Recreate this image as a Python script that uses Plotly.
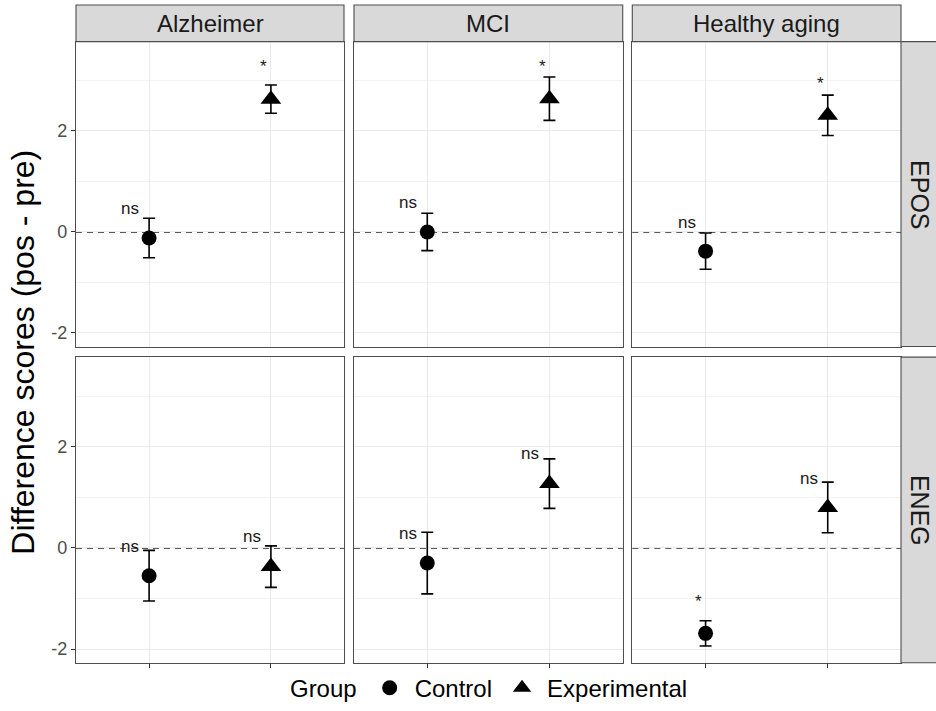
import plotly.graph_objects as go

# ---- data -------------------------------------------------------------
conditions = ["Alzheimer", "MCI", "Healthy aging"]
measures = ["EPOS", "ENEG"]
groups = ["Control", "Experimental"]

# mean difference scores (pos - pre) and error half-widths, per condition
epos_control_mean = [-0.12, 0.00, -0.38]
epos_control_err = [0.39, 0.37, 0.36]
epos_exp_mean = [2.63, 2.64, 2.31]
epos_exp_err = [0.28, 0.43, 0.40]

eneg_control_mean = [-0.55, -0.30, -1.69]
eneg_control_err = [0.50, 0.61, 0.25]
eneg_exp_mean = [-0.37, 1.27, 0.80]
eneg_exp_err = [0.41, 0.49, 0.50]

# significance labels and the height at which each label sits
epos_control_sig = ["ns", "ns", "ns"]
epos_exp_sig = ["*", "*", "*"]
eneg_control_sig = ["ns", "ns", "*"]
eneg_exp_sig = ["ns", "ns", "ns"]

epos_control_sig_y = [0.38, 0.49, 0.09]
epos_exp_sig_y = [3.18, 3.19, 2.85]
eneg_control_sig_y = [-0.07, 0.19, -1.15]
eneg_exp_sig_y = [0.14, 1.77, 1.29]

y_ticks = [-2, 0, 2]
y_minor = [-1, 1, 3]
y_range = [-2.27, 3.77]

table = {
    "EPOS": {
        "Control": (epos_control_mean, epos_control_err, epos_control_sig, epos_control_sig_y),
        "Experimental": (epos_exp_mean, epos_exp_err, epos_exp_sig, epos_exp_sig_y),
    },
    "ENEG": {
        "Control": (eneg_control_mean, eneg_control_err, eneg_control_sig, eneg_control_sig_y),
        "Experimental": (eneg_exp_mean, eneg_exp_err, eneg_exp_sig, eneg_exp_sig_y),
    },
}

# ---- layout geometry (pixels) ----------------------------------------
W, H = 936, 711
FONT = "Liberation Sans, Arial, Helvetica, sans-serif"
col_px = [(76, 344), (354, 622.7), (632.3, 901)]
row_px = [(42, 350), (360.7, 669.3)]
strip_top = (5, 42)
strip_right = (901, 936)
BORDER = "#4D4D4D"
GRID = "#EBEBEB"

symbols = {"Control": "circle", "Experimental": "triangle-up"}
sizes = {"Control": 15, "Experimental": 18}

fig = go.Figure()
layout_axes = {}
shapes = []
annotations = []

for r, measure in enumerate(measures):
    for c, cond in enumerate(conditions):
        k = r * 3 + c + 1
        xs = "x" if k == 1 else f"x{k}"
        ys = "y" if k == 1 else f"y{k}"
        x0, x1 = col_px[c]
        y0, y1 = row_px[r]

        layout_axes["xaxis" if k == 1 else f"xaxis{k}"] = dict(
            domain=[x0 / W, x1 / W], anchor=ys, type="category",
            categoryorder="array", categoryarray=groups, range=[-0.6, 1.6],
            showgrid=True, gridcolor=GRID, gridwidth=1,
            showline=True, mirror=True, linecolor=BORDER, linewidth=1.1,
            ticks="outside" if r == 1 else "", ticklen=4, tickwidth=1,
            tickcolor="#333333", showticklabels=False, zeroline=False,
            fixedrange=True,
        )
        layout_axes["yaxis" if k == 1 else f"yaxis{k}"] = dict(
            domain=[1 - y1 / H, 1 - y0 / H], anchor=xs, range=y_range,
            tickmode="array", tickvals=y_ticks, ticktext=[str(v) for v in y_ticks],
            showgrid=True, gridcolor=GRID, gridwidth=1,
            minor=dict(tickmode="array", tickvals=y_minor, showgrid=True,
                       gridcolor="#F2F2F2", gridwidth=0.8, ticks=""),
            showline=True, mirror=True, linecolor=BORDER, linewidth=1.1,
            ticks="outside" if c == 0 else "", ticklen=4, tickwidth=1,
            tickcolor="#333333", showticklabels=(c == 0),
            tickfont=dict(family=FONT, size=18, color="#4D4D4D"),
            zeroline=False, fixedrange=True,
        )

        # dashed reference line at zero
        shapes.append(dict(
            type="line", xref=f"{xs} domain", yref=ys, x0=0, x1=1, y0=0, y1=0,
            line=dict(color="#262626", width=1.8, dash="6px,5px"), layer="below",
        ))

        for g in groups:
            means, errs, sigs, sig_y = table[measure][g]
            fig.add_trace(go.Scatter(
                x=[g], y=[means[c]], mode="markers",
                marker=dict(symbol=symbols[g], size=sizes[g], color="black"),
                error_y=dict(type="data", array=[errs[c]], color="black",
                             thickness=1.6, width=6),
                name=g, legendgroup=g, showlegend=(k == 1),
                xaxis=xs, yaxis=ys, hoverinfo="skip",
            ))
            annotations.append(dict(
                xref=xs, yref=ys, x=g, y=sig_y[c], text=sigs[c],
                showarrow=False, xanchor="center", yanchor="bottom",
                xshift=-19 if sigs[c] == "ns" else -7, yshift=-7,
                font=dict(family=FONT, size=17, color="#1A1A1A"),
            ))

# facet strips: conditions on top, measures on the right
for c, cond in enumerate(conditions):
    x0, x1 = col_px[c]
    shapes.append(dict(
        type="rect", xref="paper", yref="paper",
        x0=x0 / W, x1=x1 / W, y0=1 - strip_top[1] / H, y1=1 - strip_top[0] / H,
        fillcolor="#D9D9D9", line=dict(color=BORDER, width=1.1), layer="above",
    ))
    annotations.append(dict(
        xref="paper", yref="paper", x=(x0 + x1) / 2 / W,
        y=1 - (strip_top[0] + strip_top[1]) / 2 / H,
        text=cond, showarrow=False, xanchor="center", yanchor="middle",
        font=dict(family=FONT, size=24, color="#1A1A1A"),
    ))

for r, measure in enumerate(measures):
    y0, y1 = row_px[r]
    shapes.append(dict(
        type="rect", xref="paper", yref="paper",
        x0=strip_right[0] / W, x1=strip_right[1] / W + 0.01,
        y0=1 - y1 / H, y1=1 - y0 / H,
        fillcolor="#D9D9D9", line=dict(color=BORDER, width=1.1), layer="above",
    ))
    annotations.append(dict(
        xref="paper", yref="paper", x=(strip_right[0] + 19) / W,
        y=1 - (y0 + y1) / 2 / H, text=measure, textangle=90,
        showarrow=False, xanchor="center", yanchor="middle",
        font=dict(family=FONT, size=25, color="#1A1A1A"),
    ))

# shared y-axis title
annotations.append(dict(
    xref="paper", yref="paper", x=23.5 / W,
    y=1 - (row_px[0][0] + row_px[1][1]) / 2 / H,
    text="Difference scores (pos - pre)", textangle=-90, showarrow=False,
    xanchor="center", yanchor="middle",
    font=dict(family=FONT, size=32, color="black"),
))

fig.update_layout(
    width=W, height=H, margin=dict(l=0, r=0, t=0, b=0),
    paper_bgcolor="white", plot_bgcolor="white",
    font=dict(family=FONT, color="black"),
    shapes=shapes, annotations=annotations,
    showlegend=True,
    legend=dict(
        orientation="h", x=0.524, xanchor="center", y=1 - 695 / H,
        yanchor="middle", itemwidth=40, bgcolor="rgba(0,0,0,0)",
        title=dict(text="Group", side="left", font=dict(family=FONT, size=24)),
        font=dict(family=FONT, size=24, color="black"),
    ),
    **layout_axes,
)

fig.write_html("out.html")
